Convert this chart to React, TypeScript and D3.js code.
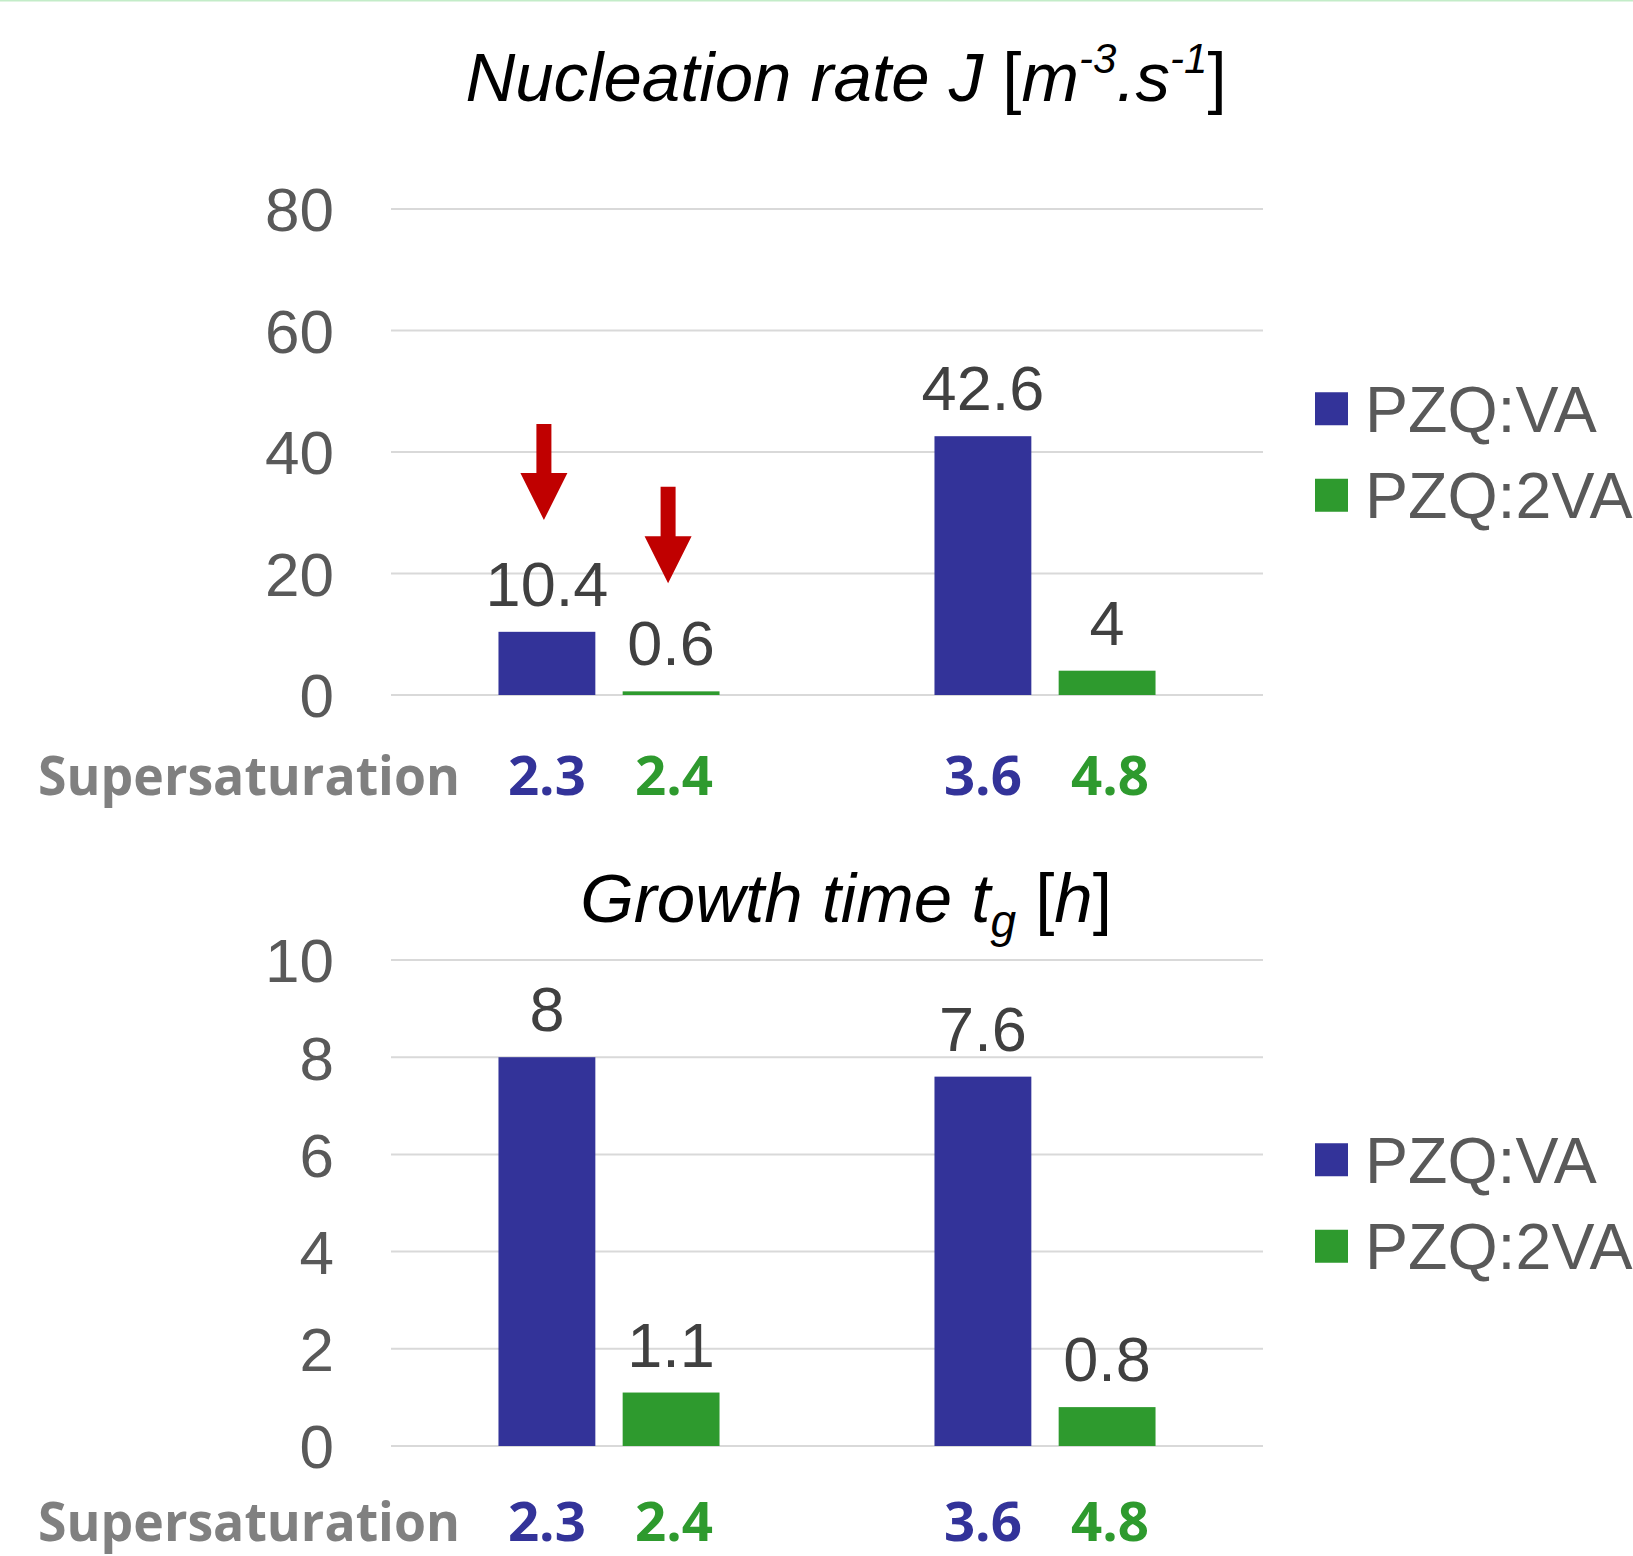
import React from 'react';
import * as d3 from 'd3';

const seriesNames = ['PZQ:VA', 'PZQ:2VA'];
const seriesColors = ['#333399', '#2e9a2e'];
const groups = ['low', 'high'];

const nucleationVA = [10.4, 42.6];
const nucleationTwoVA = [0.6, 4];
const nucleationTicks = [0, 20, 40, 60, 80];

const growthVA = [8, 7.6];
const growthTwoVA = [1.1, 0.8];
const growthTicks = [0, 2, 4, 6, 8, 10];

const supersatVA = ['2.3', '3.6'];
const supersatTwoVA = ['2.4', '4.8'];

// red arrows over the first group: [series index, tail value, tip value]
const arrowMarks: [number, number, number][] = [
  [0, 44.6, 28.8],
  [1, 34.3, 18.4],
];

const W = 1633;
const H = 1556;
const plotLeft = 391;
const plotRight = 1263;
const titleX = 846;
const sans = '"Liberation Sans", Arial, sans-serif';

interface PanelProps {
  top: number;
  base: number;
  ticks: number[];
  va: number[];
  twoVa: number[];
  title: React.ReactNode;
  titleY: number;
  ssY: number;
  arrows?: [number, number, number][];
}

function Panel({ top, base, ticks, va, twoVa, title, titleY, ssY, arrows }: PanelProps) {
  const y = d3.scaleLinear().domain([0, d3.max(ticks)!]).range([base, top]);
  const x0 = d3.scaleBand().domain(groups).range([plotLeft, plotRight]).paddingInner(0.493).paddingOuter(0.2465);
  const x1 = d3.scaleBand().domain(seriesNames).range([0, x0.bandwidth()]).paddingInner(0.22);
  const values = [va, twoVa];
  const ssLabels = [supersatVA, supersatTwoVA];
  const mid = (top + base) / 2;

  return (
    <g>
      <text x={titleX} y={titleY} textAnchor="middle" fontFamily={sans} fontSize={69} fill="#000">
        {title}
      </text>
      {ticks.map((t) => (
        <g key={t}>
          <line x1={plotLeft} x2={plotRight} y1={y(t)} y2={y(t)} stroke="#d9d9d9" strokeWidth={2} />
          <text x={334} y={y(t)} dy="0.36em" textAnchor="end" fontFamily={sans} fontSize={62} fill="#595959">
            {t}
          </text>
        </g>
      ))}
      {groups.map((g, gi) =>
        seriesNames.map((s, si) => {
          const v = values[si][gi];
          const bx = x0(g)! + x1(s)!;
          const cx = bx + x1.bandwidth() / 2;
          return (
            <g key={g + s}>
              <rect x={bx} y={y(v)} width={x1.bandwidth()} height={base - y(v)} fill={seriesColors[si]} />
              <text x={cx} y={y(v) - 26} textAnchor="middle" fontFamily={sans} fontSize={63} fill="#404040">
                {String(v)}
              </text>
              <text x={cx + si * 3} y={ssY} textAnchor="middle" fontFamily='"Open Sans", sans-serif' fontWeight={700} fontSize={53}
                fill={seriesColors[si]} textLength={78} lengthAdjust="spacingAndGlyphs">
                {ssLabels[si][gi]}
              </text>
            </g>
          );
        })
      )}
      <text x={38} y={ssY} fontFamily='"Open Sans", sans-serif' fontWeight={700} fontSize={53} fill="#808080"
        textLength={422} lengthAdjust="spacingAndGlyphs">
        Supersaturation
      </text>
      {(arrows ?? []).map(([si, from, to], i) => {
        const cx = x0(groups[0])! + x1(seriesNames[si])! + x1.bandwidth() / 2 - 3;
        const yTail = y(from);
        const yTip = y(to);
        const headLen = 47;
        const path = d3.path();
        path.moveTo(cx - 7.5, yTail);
        path.lineTo(cx + 7.5, yTail);
        path.lineTo(cx + 7.5, yTip - headLen);
        path.lineTo(cx + 23.5, yTip - headLen);
        path.lineTo(cx, yTip);
        path.lineTo(cx - 23.5, yTip - headLen);
        path.lineTo(cx - 7.5, yTip - headLen);
        path.closePath();
        return <path key={i} d={path.toString()} fill="#c00000" />;
      })}
      {seriesNames.map((s, si) => {
        const cy = mid + (si - 0.5) * 86.5;
        return (
          <g key={s}>
            <rect x={1315} y={cy - 16.5} width={33} height={33} fill={seriesColors[si]} />
            <text x={1365} y={cy} dy="0.36em" fontFamily={sans} fontSize={64.5} fill="#595959">
              {s}
            </text>
          </g>
        );
      })}
    </g>
  );
}

export default function App() {
  return (
    <svg width={W} height={H} style={{ position: 'absolute', left: 0, top: 0, background: '#fff' }}>
      <rect width={W} height={H} fill="#fff" />
      <line x1={0} x2={W} y1={0.5} y2={0.5} stroke="#c3ecc8" strokeWidth={2} />
      <Panel
        top={209}
        base={695}
        ticks={nucleationTicks}
        va={nucleationVA}
        twoVa={nucleationTwoVA}
        titleY={101}
        ssY={795}
        arrows={arrowMarks}
        title={
          <>
            <tspan fontStyle="italic">Nucleation rate J </tspan>
            <tspan>[</tspan>
            <tspan fontStyle="italic">m</tspan>
            <tspan fontStyle="italic" fontSize={42} dy={-28}>-3</tspan>
            <tspan fontStyle="italic" dy={28}>.s</tspan>
            <tspan fontStyle="italic" fontSize={42} dy={-28}>-1</tspan>
            <tspan dy={28}>]</tspan>
          </>
        }
      />
      <Panel
        top={960}
        base={1446}
        ticks={growthTicks}
        va={growthVA}
        twoVa={growthTwoVA}
        titleY={922}
        ssY={1541}
        title={
          <>
            <tspan fontStyle="italic">Growth time t</tspan>
            <tspan fontStyle="italic" fontSize={46} dy={15}>g</tspan>
            <tspan dy={-15}> [</tspan>
            <tspan fontStyle="italic">h</tspan>
            <tspan>]</tspan>
          </>
        }
      />
    </svg>
  );
}
